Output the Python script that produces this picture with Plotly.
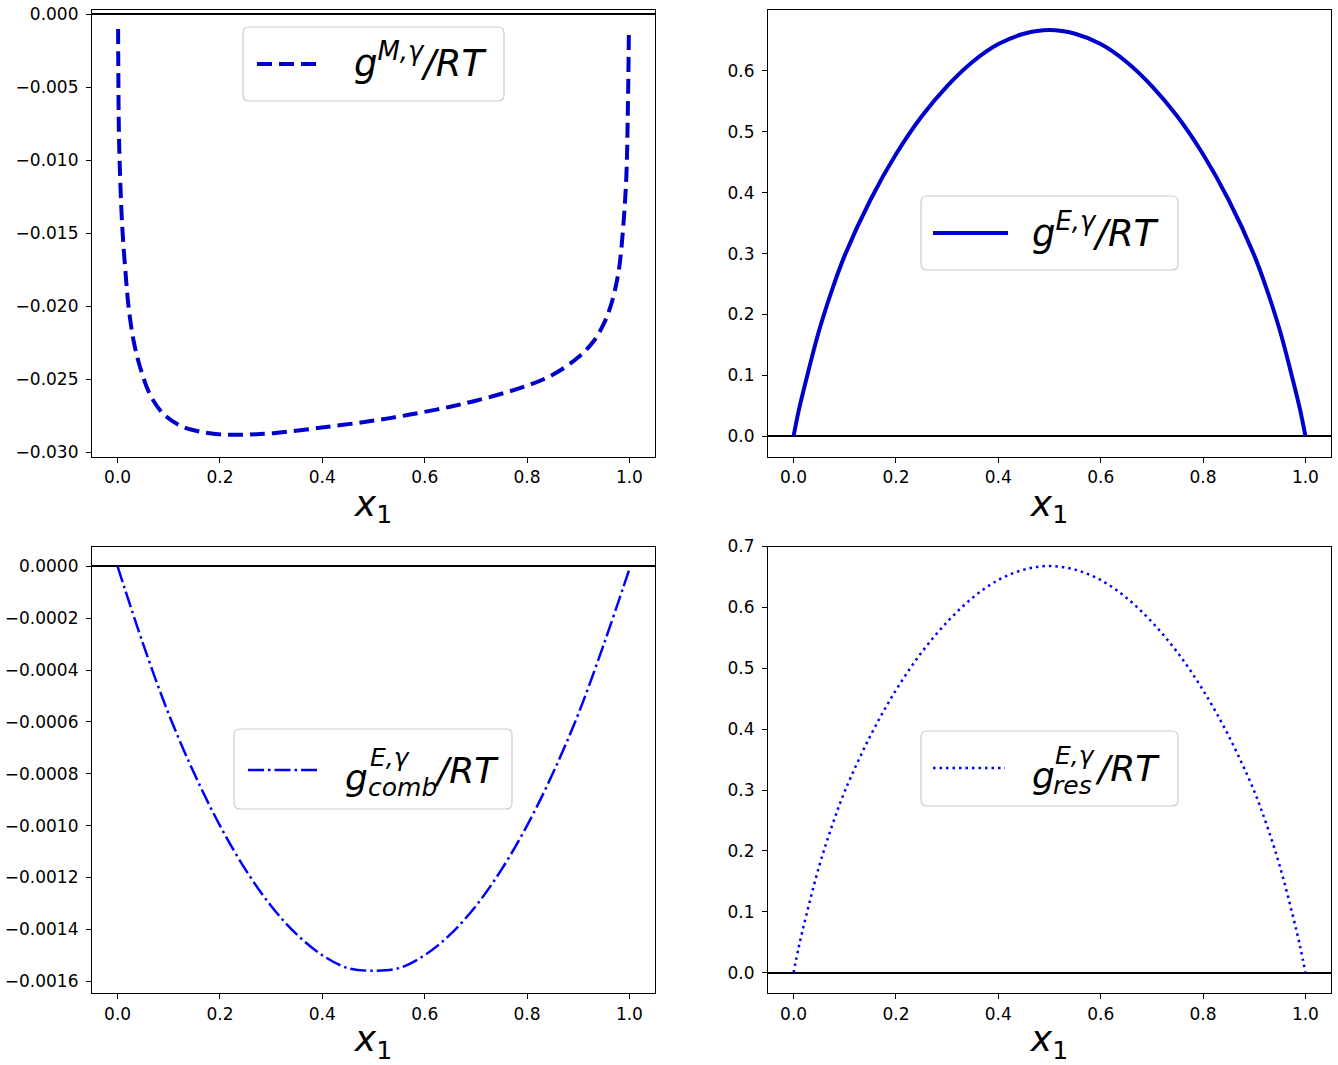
import plotly.graph_objects as go

# Mole fraction grids and the four reduced Gibbs-energy curves
x_mix = [0.001, 0.0015, 0.003, 0.009, 0.016, 0.022, 0.032, 0.045, 0.064, 0.090,
         0.123, 0.162, 0.208, 0.253, 0.305, 0.403, 0.501, 0.55, 0.598, 0.65, 0.696, 0.75,
         0.80, 0.85, 0.90, 0.93, 0.95, 0.965, 0.979, 0.988, 0.994, 0.997, 0.999]
g_mix = [-0.0010, -0.0042, -0.0088, -0.0145, -0.0179, -0.0202, -0.0225, -0.0243, -0.0261, -0.0274,
         -0.0282, -0.0286, -0.0288, -0.0288, -0.0287, -0.0283, -0.02784, -0.02756, -0.02725, -0.02689, -0.02651, -0.0260,
         -0.02545, -0.0247, -0.0235, -0.0224, -0.0212, -0.0198, -0.0176, -0.0145, -0.0111, -0.0065, -0.0010]

x_exc = [0.0, 0.01, 0.025, 0.05, 0.075, 0.1, 0.15, 0.2, 0.25, 0.3, 0.35, 0.4, 0.45, 0.5,
         0.55, 0.6, 0.65, 0.7, 0.75, 0.8, 0.85, 0.9, 0.925, 0.95, 0.975, 0.99, 1.0]
g_exc = [0.0, 0.042, 0.094, 0.174, 0.240, 0.297, 0.388, 0.463, 0.525, 0.575, 0.615, 0.644, 0.661, 0.667,
         0.661, 0.644, 0.615, 0.575, 0.525, 0.463, 0.388, 0.297, 0.240, 0.174, 0.094, 0.042, 0.0]

x_comb = [0.0, 0.05, 0.1, 0.15, 0.2, 0.25, 0.3, 0.35, 0.4, 0.45, 0.5,
          0.55, 0.6, 0.65, 0.7, 0.75, 0.8, 0.85, 0.9, 0.95, 1.0]
g_comb = [0.0, -0.00030, -0.00057, -0.00080, -0.00100, -0.00117, -0.00131, -0.00142, -0.00150, -0.00155, -0.00156,
          -0.00155, -0.00150, -0.00142, -0.00131, -0.00117, -0.00100, -0.00080, -0.00057, -0.00030, -0.00001]

x_res = [0.0, 0.01, 0.025, 0.05, 0.075, 0.1, 0.15, 0.2, 0.25, 0.3, 0.35, 0.4, 0.45, 0.5,
         0.55, 0.6, 0.65, 0.7, 0.75, 0.8, 0.85, 0.9, 0.925, 0.95, 0.975, 0.99, 1.0]
g_res = [0.0, 0.042, 0.095, 0.175, 0.241, 0.298, 0.389, 0.464, 0.526, 0.576, 0.616, 0.645, 0.662, 0.668,
         0.662, 0.645, 0.616, 0.576, 0.526, 0.464, 0.389, 0.298, 0.241, 0.175, 0.095, 0.042, 0.0]

x_tick_vals = [0.0, 0.2, 0.4, 0.6, 0.8, 1.0]

W, H = 1338, 1065
FONT = "DejaVu Sans"
DARK_BLUE = "#0000cd"
BLUE = "#0000ff"


def fx(p):
    return p / W


def fy(p):
    return 1 - p / H


# panel boxes in pixels: left, right, top, bottom
cols = [(92, 655), (768, 1331)]
rows = [(10, 456.5), (546.5, 993)]

fig = go.Figure()

fig.add_trace(go.Scatter(x=x_mix, y=g_mix, mode="lines", name="g^M/RT", showlegend=False,
                         line=dict(color=DARK_BLUE, width=4, dash="15px,7px", shape="spline", smoothing=1.0),
                         xaxis="x", yaxis="y"))
fig.add_trace(go.Scatter(x=x_exc, y=g_exc, mode="lines", name="g^E/RT", showlegend=False,
                         line=dict(color=DARK_BLUE, width=4, shape="spline", smoothing=1.0),
                         xaxis="x2", yaxis="y2"))
fig.add_trace(go.Scatter(x=x_comb, y=g_comb, mode="lines", name="g^E_comb/RT", showlegend=False,
                         line=dict(color=BLUE, width=2.5, dash="16px,4px,2.5px,4px", shape="spline", smoothing=1.0),
                         xaxis="x3", yaxis="y3"))
fig.add_trace(go.Scatter(x=x_res, y=g_res, mode="lines", name="g^E_res/RT", showlegend=False,
                         line=dict(color=BLUE, width=2.5, dash="2.5px,4px", shape="spline", smoothing=1.0),
                         xaxis="x4", yaxis="y4"))

axis_common = dict(showline=True, mirror=True, linecolor="black", linewidth=1.2,
                   ticks="outside", ticklen=5, tickwidth=1.2, tickcolor="black",
                   showgrid=False, automargin=False,
                   tickfont=dict(family=FONT, size=17, color="black"))

y_specs = [
    dict(range=[-0.0303, 0.0003], tickvals=[0.0, -0.005, -0.010, -0.015, -0.020, -0.025, -0.030], tickformat=".3f"),
    dict(range=[-0.0333, 0.7], tickvals=[0.0, 0.1, 0.2, 0.3, 0.4, 0.5, 0.6], tickformat=".1f"),
    dict(range=[-0.001646, 0.000077], tickvals=[0.0, -0.0002, -0.0004, -0.0006, -0.0008, -0.0010,
                                                -0.0012, -0.0014, -0.0016], tickformat=".4f"),
    dict(range=[-0.0333, 0.7], tickvals=[0.0, 0.1, 0.2, 0.3, 0.4, 0.5, 0.6, 0.7], tickformat=".1f"),
]

layout = dict(width=W, height=H, margin=dict(l=0, r=0, t=0, b=0, autoexpand=False),
              plot_bgcolor="white", paper_bgcolor="white", showlegend=False,
              font=dict(family=FONT, color="black"))

for i in range(4):
    r, c = divmod(i, 2)
    left, right = cols[c]
    top, bottom = rows[r]
    sx = "" if i == 0 else str(i + 1)
    layout["xaxis" + sx] = dict(
        axis_common, domain=[fx(left), fx(right)], anchor="y" + sx, range=[-0.05, 1.05],
        tickvals=x_tick_vals, tickformat=".1f", zeroline=False, ticklabelstandoff=0,
        title=dict(text="<i>x</i><sub>1</sub>", font=dict(family=FONT, size=36, color="black"), standoff=4))
    layout["yaxis" + sx] = dict(
        axis_common, domain=[fy(bottom), fy(top)], anchor="x" + sx, ticklabelstandoff=4,
        zeroline=True, zerolinecolor="black", zerolinewidth=2, **y_specs[i])

fig.update_layout(**layout)


def rounded_box(x0, y0, x1, y1, rad=6):
    # rounded rectangle path in paper coordinates from pixel corners
    pts = [
        f"M {fx(x0 + rad)},{fy(y0)}",
        f"L {fx(x1 - rad)},{fy(y0)}",
        f"Q {fx(x1)},{fy(y0)} {fx(x1)},{fy(y0 + rad)}",
        f"L {fx(x1)},{fy(y1 - rad)}",
        f"Q {fx(x1)},{fy(y1)} {fx(x1 - rad)},{fy(y1)}",
        f"L {fx(x0 + rad)},{fy(y1)}",
        f"Q {fx(x0)},{fy(y1)} {fx(x0)},{fy(y1 - rad)}",
        f"L {fx(x0)},{fy(y0 + rad)}",
        f"Q {fx(x0)},{fy(y0)} {fx(x0 + rad)},{fy(y0)}",
        "Z",
    ]
    return " ".join(pts)


def legend_frame(box, sample, color, width, dash):
    x0, y0, x1, y1 = box
    fig.add_shape(type="path", path=rounded_box(x0, y0, x1, y1), xref="paper", yref="paper",
                  line=dict(color="#cccccc", width=1.2), fillcolor="rgba(255,255,255,0.8)")
    sx0, sx1, sy = sample
    fig.add_shape(type="line", xref="paper", yref="paper", x0=fx(sx0), x1=fx(sx1), y0=fy(sy), y1=fy(sy),
                  line=dict(color=color, width=width, dash=dash))


def label(text, x, y, size=36):
    fig.add_annotation(text=text, x=fx(x), y=fy(y), xref="paper", yref="paper",
                       xanchor="left", yanchor="middle", showarrow=False,
                       font=dict(family=FONT, size=size, color="black"))


# legend of the mixing curve
legend_frame((243, 27, 504, 101), (257, 320, 64), DARK_BLUE, 4, "15px,7px")
label("<i>g<sup>M,γ</sup>/RT</i>", 352, 61, size=37)

# legend of the excess curve
legend_frame((921, 196, 1178, 270), (933, 1008, 233), DARK_BLUE, 4, "solid")
label("<i>g<sup>E,γ</sup>/RT</i>", 1030, 230, size=37)

# legend of the combinatorial part
legend_frame((234, 729, 512, 809), (248, 318, 770), BLUE, 2.5, "16px,4px,2.5px,4px")
label("<i>g</i>", 343, 777)
label("<i>E,γ</i>", 368, 757, size=25)
label("<i>comb</i>", 366, 787, size=25)
label("<i>/RT</i>", 432, 770)

# legend of the residual part
legend_frame((921, 731, 1178, 806), (933, 1005, 768), BLUE, 2.5, "2.5px,4px")
label("<i>g</i>", 1030, 775)
label("<i>E,γ</i>", 1053, 755, size=25)
label("<i>res</i>", 1051, 785, size=25)
label("<i>/RT</i>", 1093, 768)

fig.write_html("out.html")
